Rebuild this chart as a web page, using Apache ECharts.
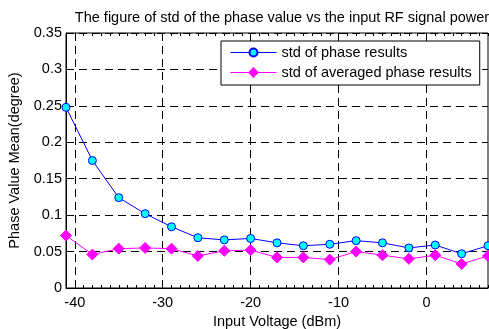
<!DOCTYPE html>
<html><head><meta charset="utf-8">
<script src="https://cdn.jsdelivr.net/npm/echarts@6/dist/echarts.min.js"></script>
<style>html,body{margin:0;padding:0;background:#fff}#c{width:489px;height:329px}</style>
</head><body><div id="c"></div>
<script>
var inputPower = [-41, -38, -35, -32, -29, -26, -23, -20, -17, -14, -11, -8, -5, -2, 1, 4, 7];
var stdPhase = [0.248, 0.175, 0.124, 0.102, 0.084, 0.069, 0.066, 0.068, 0.062, 0.058, 0.060, 0.065, 0.062, 0.055, 0.059, 0.047, 0.058];
var stdAvgPhase = [0.072, 0.046, 0.054, 0.055, 0.054, 0.044, 0.051, 0.052, 0.042, 0.042, 0.039, 0.050, 0.045, 0.040, 0.045, 0.033, 0.044];
var xTicks = [-40, -30, -20, -10, 0];
var xMin = -41, xMax = 7;
var yMin = 0, yMax = 0.35, yStep = 0.05;
var titleText = 'The figure of std of the phase value vs the input RF signal power';
var xName = 'Input Voltage (dBm)';
var yName = 'Phase Value Mean(degree)';
var seriesNames = ['std of phase results', 'std of averaged phase results'];

var minorX = [];
for (var v = xMin; v <= xMax; v++) minorX.push(v);

var font = 'Liberation Sans, Arial, sans-serif';
var fs = 14.5;
var chart = echarts.init(document.getElementById('c'), null, {renderer: 'canvas'});
function pairs(ys) { return inputPower.map(function (x, i) { return [x, ys[i]]; }); }
var dash = {color: '#000', width: 1, type: [8, 5]};
chart.setOption({
  animation: false,
  backgroundColor: '#fff',
  textStyle: {fontFamily: font},
  title: {text: titleText, left: 277, top: 5, textAlign: 'center',
    textStyle: {fontSize: fs, fontWeight: 'normal', color: '#000', fontFamily: font}},
  grid: {left: 66, right: 1, top: 33, bottom: 41, show: true, borderColor: '#000', borderWidth: 1,
    containLabel: false, outerBoundsMode: 'none'},
  legend: {
    orient: 'vertical', left: 221, top: 41,
    data: seriesNames, itemWidth: 46, itemHeight: 10, itemGap: 5,
    padding: [4, 8, 5, 9], borderColor: '#000', borderWidth: 1, backgroundColor: '#fff',
    lineStyle: {width: 1},
    textStyle: {fontSize: fs, color: '#000', fontFamily: font}
  },
  xAxis: [
    {type: 'value', min: xMin, max: xMax, position: 'bottom',
      name: xName, nameLocation: 'middle', nameGap: 24,
      nameTextStyle: {fontSize: fs, color: '#000', fontFamily: font},
      axisLine: {show: true, onZero: false, lineStyle: {color: '#000'}},
      axisTick: {show: true, inside: true, length: 5, customValues: xTicks, lineStyle: {color: '#000'}},
      axisLabel: {customValues: xTicks, color: '#000', fontSize: fs, margin: 7, fontFamily: font},
      splitLine: {show: true, lineStyle: dash}},
    {type: 'value', min: xMin, max: xMax, position: 'bottom', gridIndex: 0,
      axisLine: {show: false, onZero: false}, axisLabel: {show: false}, splitLine: {show: false},
      axisTick: {show: true, inside: true, length: 3, customValues: minorX, lineStyle: {color: '#000'}}},
    {type: 'value', min: xMin, max: xMax, position: 'top', gridIndex: 0,
      axisLine: {show: false, onZero: false}, axisLabel: {show: false}, splitLine: {show: false},
      axisTick: {show: true, inside: true, length: 3, customValues: minorX, lineStyle: {color: '#000'}}},
    {type: 'value', min: xMin, max: xMax, position: 'top', gridIndex: 0,
      axisLine: {show: false, onZero: false}, axisLabel: {show: false}, splitLine: {show: false},
      axisTick: {show: true, inside: true, length: 5, customValues: xTicks, lineStyle: {color: '#000'}}}
  ],
  yAxis: [
    {type: 'value', min: yMin, max: yMax, interval: yStep, position: 'left',
      name: yName, nameLocation: 'middle', nameGap: 42,
      nameTextStyle: {fontSize: fs, color: '#000', fontFamily: font},
      axisLine: {show: true, onZero: false, lineStyle: {color: '#000'}},
      axisTick: {show: true, inside: true, length: 5, lineStyle: {color: '#000'}},
      axisLabel: {color: '#000', fontSize: fs, margin: 4, fontFamily: font},
      splitLine: {show: true, lineStyle: dash}},
    {type: 'value', min: yMin, max: yMax, interval: yStep, position: 'right',
      axisLine: {show: false, onZero: false}, axisLabel: {show: false}, splitLine: {show: false},
      axisTick: {show: true, inside: true, length: 5, lineStyle: {color: '#000'}}}
  ],
  series: [
    {name: seriesNames[0], type: 'line', data: pairs(stdPhase),
      symbol: 'circle', symbolSize: 8,
      lineStyle: {color: '#0000ff', width: 1},
      itemStyle: {color: '#00ffff', borderColor: '#0000ff', borderWidth: 1}},
    {name: seriesNames[1], type: 'line', data: pairs(stdAvgPhase),
      symbol: 'diamond', symbolSize: 11,
      lineStyle: {color: '#ff00ff', width: 1},
      itemStyle: {color: '#ff00ff', borderColor: '#ff00ff', borderWidth: 1}}
  ]
});
</script></body></html>
